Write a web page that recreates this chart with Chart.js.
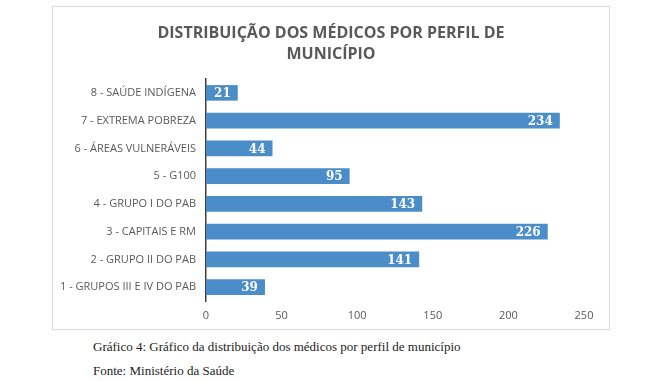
<!DOCTYPE html>
<html><head><meta charset="utf-8">
<script src="https://cdn.jsdelivr.net/npm/chart.js@4"></script>
<style>
html,body{margin:0;padding:0;background:#fff;width:663px;height:381px;overflow:hidden;}
#box{position:absolute;left:52px;top:6px;width:558px;height:324px;box-sizing:border-box;border:1px solid #d9d9d9;}
#box canvas{display:block;}
.cap{position:absolute;left:93px;font-family:"Liberation Serif",serif;font-size:13px;color:#222;white-space:nowrap;}
</style></head><body>
<div id="box"><canvas id="c" width="556" height="322"></canvas></div>
<div class="cap" style="top:339px">Gráfico 4: Gráfico da distribuição dos médicos por perfil de município</div>
<div class="cap" style="top:363px">Fonte: Ministério da Saúde</div>
<script>
const categories = ["8 - SAÚDE INDÍGENA","7 - EXTREMA POBREZA","6 - ÁREAS VULNERÁVEIS","5 - G100","4 - GRUPO I DO PAB","3 - CAPITAIS E RM","2 - GRUPO II DO PAB","1 - GRUPOS III E IV DO PAB"];
const values = [21,234,44,95,143,226,141,39];
const xTicks = [0,50,100,150,200,250];
const titleLines = ["DISTRIBUIÇÃO DOS MÉDICOS POR PERFIL DE","MUNICÍPIO"];

const labelPlugin = {
  id:'barLabels',
  afterDatasetsDraw(chart){
    const ctx = chart.ctx;
    const meta = chart.getDatasetMeta(0);
    ctx.save();
    ctx.fillStyle = '#fff';
    ctx.font = 'bold 12px "DejaVu Serif", serif';
    ctx.textAlign = 'right';
    ctx.textBaseline = 'middle';
    meta.data.forEach((bar,i)=>{
      ctx.fillText(String(values[i]), bar.x - 7, bar.y + 1);
    });
    ctx.restore();
  },
  afterDraw(chart){
    const ctx = chart.ctx;
    ctx.save();
    ctx.fillStyle = '#595959';
    ctx.font = 'bold 16px "Open Sans", sans-serif';
    ctx.textAlign = 'center';
    ctx.textBaseline = 'middle';
    titleLines.forEach((t,i)=>ctx.fillText(t, chart.width/2, 26 + i*21));
    ctx.restore();
  }
};

new Chart(document.getElementById('c'),{
  type:'bar',
  data:{labels:categories,datasets:[{data:values,backgroundColor:'#4a8dc8',borderWidth:0,categoryPercentage:0.56,barPercentage:1}]},
  options:{
    indexAxis:'y',responsive:false,animation:false,
    layout:{padding:{left:0,right:25,top:72,bottom:0}},
    plugins:{legend:{display:false},tooltip:{enabled:false},title:{display:false}},
    scales:{
      x:{min:0,max:250,afterBuildTicks(s){s.ticks=xTicks.map(v=>({value:v}));},
         grid:{display:false,drawTicks:false},border:{display:false},
         ticks:{color:'#595959',font:{family:'"Open Sans"',size:11},padding:8},
         afterFit(s){s.height=28;}},
      y:{grid:{display:false,drawTicks:false},border:{display:true,color:'#404040',width:1.5},
         ticks:{color:'#595959',font:{family:'"Open Sans"',size:11},padding:10},
         afterFit(s){s.width=153;}}
    }
  },
  plugins:[labelPlugin]
});
</script>
</body></html>
